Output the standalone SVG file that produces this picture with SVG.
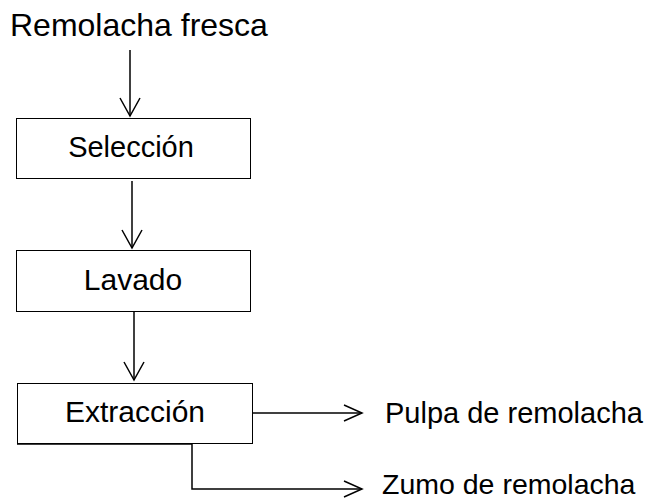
<svg xmlns="http://www.w3.org/2000/svg" width="652" height="500" viewBox="0 0 652 500">
<style>
.box{fill:#fff;stroke:#000;stroke-width:1}
.t{font-family:"Liberation Sans",Arial,sans-serif;fill:#000}
.c{text-anchor:middle}
.ln{fill:none;stroke:#000;stroke-width:1.5}
.hd{fill:none;stroke:#000;stroke-width:1.5}
</style>
<rect width="652" height="500" fill="#fff"/>
<g id="input"><text class="t" x="10" y="36" font-size="32">Remolacha fresca</text></g>
<g id="seleccion"><rect class="box" x="16.5" y="118.5" width="234" height="60"/><text class="t c" x="131" y="157" font-size="29">Selección</text></g>
<g id="lavado"><rect class="box" x="16.5" y="250.5" width="234" height="61"/><text class="t c" x="133" y="290" font-size="30">Lavado</text></g>
<g id="extraccion"><rect class="box" x="17.5" y="383.5" width="235" height="60"/><text class="t c" x="135" y="422" font-size="30">Extracción</text></g>
<g id="pulpa"><text class="t" x="385" y="423" font-size="29">Pulpa de remolacha</text></g>
<g id="zumo"><text class="t" x="382" y="494" font-size="28.5">Zumo de remolacha</text></g>
<g id="connectors">
<path class="ln" d="M130,50V116"/><path class="hd" d="M120,98L130,116L140,98"/>
<path class="ln" d="M132,181V248"/><path class="hd" d="M122,230L132,248L142,230"/>
<path class="ln" d="M134,312V380"/><path class="hd" d="M124,362L134,380L144,362"/>
<path class="ln" d="M253,413H362"/><path class="hd" d="M344,405L362,413L344,421"/>
<path class="ln" d="M17,444H192V489H362"/><path class="hd" d="M344,481L362,489L344,497"/>
</g>
</svg>
